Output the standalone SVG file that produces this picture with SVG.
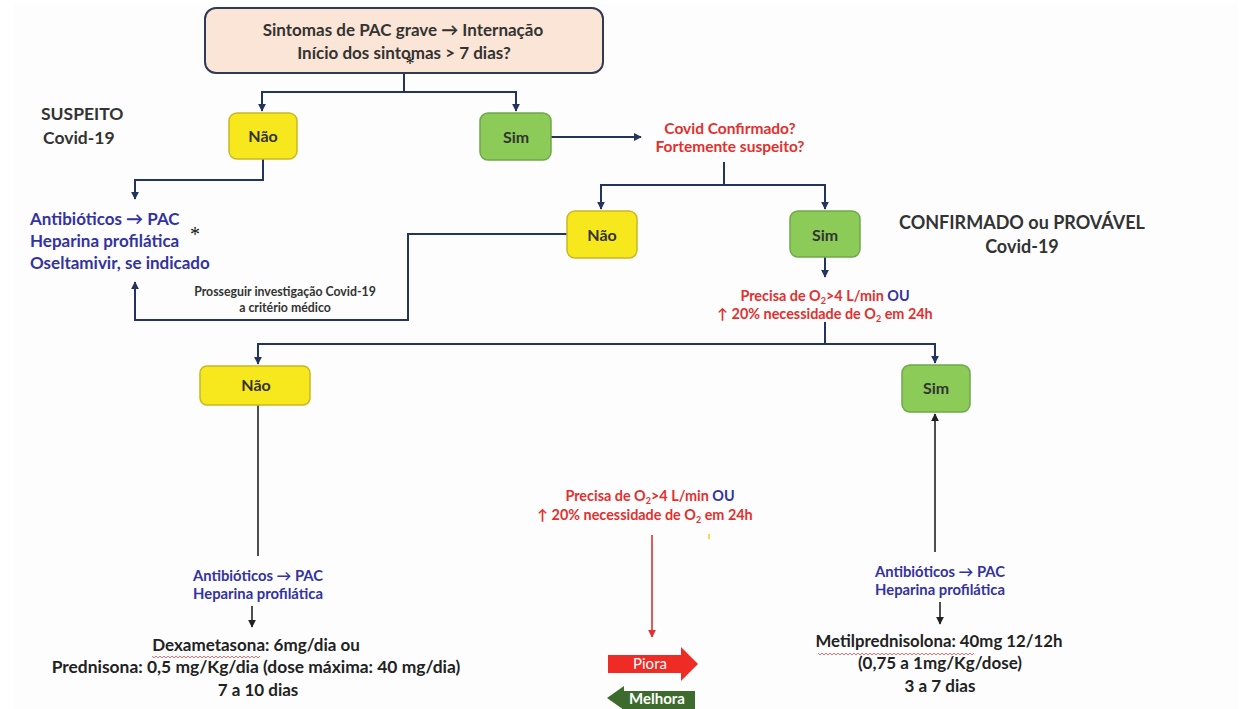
<svg xmlns="http://www.w3.org/2000/svg" width="1241" height="709" viewBox="0 0 1241 709">
<defs>
<style>
.t{font-family:Lato,"Open Sans","Liberation Sans",sans-serif;font-weight:bold}
.dk{fill:#333}
.bl{fill:#3333a0}
.rd{fill:#e2302f}
.ln{fill:none;stroke:#23345e;stroke-width:2}
.bk{fill:none;stroke:#222;stroke-width:1.6}
.no{fill:#f7e81e;stroke:#c9b825;stroke-width:1.5}
.si{fill:#8ccb58;stroke:#6da84a;stroke-width:1.5}
.wv{fill:none;stroke:#e07070;stroke-width:1}
</style>
<marker id="a" viewBox="0 0 10 10" refX="9" refY="5" markerWidth="8" markerHeight="8" markerUnits="userSpaceOnUse" orient="auto"><path d="M0,0 L10,5 L0,10 z" fill="#23345e"/></marker>
<marker id="ak" viewBox="0 0 10 10" refX="9" refY="5" markerWidth="8" markerHeight="8" markerUnits="userSpaceOnUse" orient="auto"><path d="M0,0 L10,5 L0,10 z" fill="#222"/></marker>
<marker id="ar" viewBox="0 0 10 10" refX="9" refY="5" markerWidth="8" markerHeight="8" markerUnits="userSpaceOnUse" orient="auto"><path d="M0,0 L10,5 L0,10 z" fill="#e2302f"/></marker>
</defs>
<rect x="0" y="0" width="1241" height="709" fill="#ffffff"/>
<rect x="14" y="4" width="1224" height="705" fill="#fdfdfd"/>

<g id="connectors">
<path class="ln" d="M404,73 V92 H262 V111" marker-end="url(#a)"/>
<path class="ln" d="M404,92 H516 V111" marker-end="url(#a)"/>
<path class="ln" d="M551,137 H641" marker-end="url(#a)"/>
<path class="ln" d="M263,159 V180 H135 V199" marker-end="url(#a)"/>
<path class="ln" d="M724,162 V185 H601 V209" marker-end="url(#a)"/>
<path class="ln" d="M724,185 H825 V209" marker-end="url(#a)"/>
<path class="ln" d="M567,234 H408 V320 H135 V282" marker-end="url(#a)"/>
<path class="ln" d="M825,257 V277" marker-end="url(#a)"/>
<path class="ln" d="M825,322 V344 H258 V364" marker-end="url(#a)"/>
<path class="ln" d="M825,344 H935 V363" marker-end="url(#a)"/>
<path class="bk" d="M258,405 V556"/>
<path class="bk" d="M935,552 V414" marker-end="url(#ak)"/>
<path class="bk" d="M252,606 V627" marker-end="url(#ak)"/>
<path class="bk" d="M940,602 V624" marker-end="url(#ak)"/>
<path fill="none" stroke="#e2302f" stroke-width="1.6" d="M652,535 V637" marker-end="url(#ar)"/>
</g>

<g id="start">
<rect x="205" y="8" width="398" height="65" rx="11" fill="#fbe5d6" stroke="#2f3b55" stroke-width="2"/>
<text class="t dk" x="403" y="36" font-size="17" text-anchor="middle">Sintomas de PAC grave → Internação</text>
<text class="t dk" x="404" y="59" font-size="17" text-anchor="middle">Início dos sintomas &gt; 7 dias?</text>
<text x="410" y="70" font-family="Liberation Serif,serif" font-size="18" fill="#111" text-anchor="middle">*</text>
</g>

<g id="nao1">
<rect class="no" x="229" y="113" width="68" height="46" rx="8"/>
<text class="t dk" x="263" y="142" font-size="16" text-anchor="middle">Não</text>
</g>
<g id="sim1">
<rect class="si" x="480" y="113" width="71" height="47" rx="8"/>
<text class="t dk" x="516" y="143" font-size="16" text-anchor="middle">Sim</text>
</g>

<g id="suspeito">
<text class="t dk" x="41" y="120" font-size="17.5">SUSPEITO</text>
<text class="t dk" x="43" y="144" font-size="17.5">Covid-19</text>
</g>

<g id="tratamento1">
<text class="t bl" x="30" y="225" font-size="17">Antibióticos → PAC</text>
<text class="t bl" x="30" y="247" font-size="17">Heparina profilática</text>
<text class="t bl" x="30" y="269" font-size="17">Oseltamivir, se indicado</text>
<text x="195" y="241" font-family="Liberation Serif,serif" font-size="20" fill="#111" text-anchor="middle">*</text>
</g>

<g id="covid-confirmado">
<text class="t rd" x="730" y="134" font-size="15.5" text-anchor="middle">Covid Confirmado?</text>
<text class="t rd" x="730" y="152" font-size="15.5" text-anchor="middle">Fortemente suspeito?</text>
</g>

<g id="nao2">
<rect class="no" x="567" y="211" width="70" height="47" rx="8"/>
<text class="t dk" x="602" y="241" font-size="16" text-anchor="middle">Não</text>
</g>
<g id="sim2">
<rect class="si" x="790" y="211" width="70" height="46" rx="8"/>
<text class="t dk" x="825" y="241" font-size="16" text-anchor="middle">Sim</text>
</g>

<g id="prosseguir">
<text class="t dk" x="285" y="296" font-size="12.3" text-anchor="middle">Prosseguir investigação Covid-19</text>
<text class="t dk" x="285" y="312" font-size="12.3" text-anchor="middle">a critério médico</text>
</g>

<g id="confirmado">
<text class="t dk" x="1022" y="229" font-size="18" text-anchor="middle">CONFIRMADO ou PROVÁVEL</text>
<text class="t dk" x="1022" y="253" font-size="18" text-anchor="middle">Covid-19</text>
</g>

<g id="precisa1">
<text class="t rd" x="825" y="301" font-size="14.4" text-anchor="middle">Precisa de O<tspan font-size="9" dy="3">2</tspan><tspan dy="-3">&gt;4 L/min </tspan><tspan class="bl">OU</tspan></text>
<text class="t rd" x="825" y="319" font-size="14.4" text-anchor="middle">↑ 20% necessidade de O<tspan font-size="9" dy="3">2</tspan><tspan dy="-3"> em 24h</tspan></text>
</g>

<g id="nao3">
<rect class="no" x="200" y="366" width="110" height="39" rx="7"/>
<text class="t dk" x="256" y="391" font-size="16" text-anchor="middle">Não</text>
</g>
<g id="sim3">
<rect class="si" x="902" y="365" width="68" height="47" rx="8"/>
<text class="t dk" x="936" y="394" font-size="16" text-anchor="middle">Sim</text>
</g>

<g id="tratamento-nao">
<text class="t bl" x="258" y="581" font-size="14.8" text-anchor="middle">Antibióticos → PAC</text>
<text class="t bl" x="258" y="599" font-size="14.8" text-anchor="middle">Heparina profilática</text>
<text class="t" fill="#222" x="256" y="651" font-size="17" text-anchor="middle">Dexametasona: 6mg/dia ou</text>
<path class="wv" d="M152,656 l2,2 l2,-2 l2,2 l2,-2 l2,2 l2,-2 l2,2 l2,-2 l2,2 l2,-2 l2,2 l2,-2 l2,2 l2,-2 l2,2 l2,-2 l2,2 l2,-2 l2,2 l2,-2 l2,2 l2,-2 l2,2 l2,-2 l2,2 l2,-2 l2,2 l2,-2 l2,2 l2,-2 l2,2 l2,-2 l2,2 l2,-2 l2,2 l2,-2 l2,2 l2,-2 l2,2 l2,-2 l2,2 l2,-2 l2,2 l2,-2 l2,2 l2,-2 l2,2 l2,-2 l2,2 l2,-2 l2,2 l2,-2 l2,2 l2,-2"/>
<text class="t" fill="#222" x="256" y="673" font-size="17.4" text-anchor="middle">Prednisona: 0,5 mg/Kg/dia (dose máxima: 40 mg/dia)</text>
<text class="t" fill="#222" x="258" y="696" font-size="17" text-anchor="middle">7 a 10 dias</text>
</g>

<g id="tratamento-sim">
<text class="t bl" x="940" y="577" font-size="14.8" text-anchor="middle">Antibióticos → PAC</text>
<text class="t bl" x="940" y="595" font-size="14.8" text-anchor="middle">Heparina profilática</text>
<text class="t" fill="#222" x="939" y="647" font-size="16.8" text-anchor="middle">Metilprednisolona: 40mg 12/12h</text>
<path class="wv" d="M818,653 l2,2 l2,-2 l2,2 l2,-2 l2,2 l2,-2 l2,2 l2,-2 l2,2 l2,-2 l2,2 l2,-2 l2,2 l2,-2 l2,2 l2,-2 l2,2 l2,-2 l2,2 l2,-2 l2,2 l2,-2 l2,2 l2,-2 l2,2 l2,-2 l2,2 l2,-2 l2,2 l2,-2 l2,2 l2,-2 l2,2 l2,-2 l2,2 l2,-2 l2,2 l2,-2 l2,2 l2,-2 l2,2 l2,-2 l2,2 l2,-2 l2,2 l2,-2 l2,2 l2,-2 l2,2 l2,-2 l2,2 l2,-2 l2,2 l2,-2 l2,2 l2,-2 l2,2 l2,-2 l2,2 l2,-2 l2,2 l2,-2 l2,2 l2,-2 l2,2 l2,-2 l2,2 l2,-2 l2,2 l2,-2 l2,2 l2,-2 l2,2 l2,-2 l2,2 l2,-2 l2,2 l2,-2"/>
<text class="t" fill="#222" x="940" y="669" font-size="17" text-anchor="middle">(0,75 a 1mg/Kg/dose)</text>
<text class="t" fill="#222" x="940" y="692" font-size="17" text-anchor="middle">3 a 7 dias</text>
</g>

<g id="precisa2">
<text class="t rd" x="650" y="501" font-size="14.4" text-anchor="middle">Precisa de O<tspan font-size="9" dy="3">2</tspan><tspan dy="-3">&gt;4 L/min </tspan><tspan class="bl">OU</tspan></text>
<text class="t rd" x="645" y="520" font-size="14.4" text-anchor="middle">↑ 20% necessidade de O<tspan font-size="9" dy="3">2</tspan><tspan dy="-3"> em 24h</tspan></text>
<rect x="708" y="534" width="2" height="5" fill="#f0e040"/>
</g>

<g id="piora">
<path d="M608,655 H681 V647 L698,664 L681,681 V673 H608 Z" fill="#ee2b24"/>
<text x="650" y="669" font-family="Lato,'Liberation Sans',sans-serif" font-size="15" fill="#fff" text-anchor="middle">Piora</text>
</g>
<g id="melhora">
<path d="M607,698 L624,686 V691 H695 V709 H624 V710 Z" fill="#3d6b2d"/>
<text x="657" y="704" font-family="Lato,'Liberation Sans',sans-serif" font-size="15" font-weight="bold" fill="#fff" text-anchor="middle">Melhora</text>
</g>
</svg>
